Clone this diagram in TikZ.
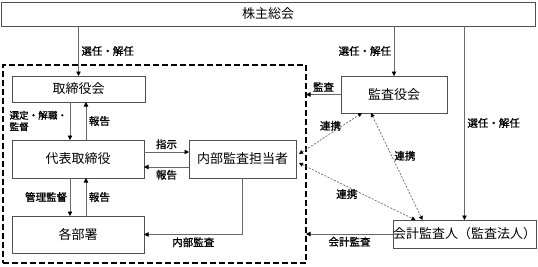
\documentclass[tikz,border=0pt]{standalone}
\usepackage{fontspec}
\setmainfont{Noto Sans CJK JP}
\newfontfamily\lblfont{Noto Sans CJK JP}[FakeBold=1.2]
\usetikzlibrary{arrows.meta, positioning, calc}
\definecolor{boxgray}{RGB}{80,80,80}
\definecolor{linegray}{RGB}{105,105,105}

\tikzset{
    orgbox/.style={draw=boxgray, line width=0.8pt, fill=white, inner sep=0pt, outer sep=0pt,
        font=\fontsize{13}{15}\selectfont},
    lbl/.style={font=\lblfont\fontsize{10.5}{11.5}\selectfont, inner sep=2.5pt},
    flow/.style={-{Triangle[length=4.5pt, width=4.5pt, color=black]}, draw=linegray, line width=0.8pt},
    link/.style={{Triangle[length=4pt, width=4pt, color=black]}-{Triangle[length=4pt, width=4pt, color=black]},
        draw=linegray, line width=0.7pt, dash pattern=on 2pt off 1.5pt},
}

\begin{document}
\begin{tikzpicture}[x=1pt, y=-1pt]
    \useasboundingbox (0,0) rectangle (538,266);

    % Company frame
    \node[draw, line width=1.6pt, dash pattern=on 6pt off 3pt, inner sep=0pt, outer sep=0pt,
        minimum width=303pt, minimum height=198pt] (frame) at (154.5,164) {};

    % Boxes
    \node[orgbox, minimum width=534pt, minimum height=24pt] (kabunushi) at (268,14) {株主総会};
    \node[orgbox, minimum width=133pt, minimum height=26pt] (torishimari) at (78.5,89) {取締役会};
    \node[orgbox, minimum width=132pt, minimum height=38pt] (daihyo) at (78,159) {代表取締役};
    \node[orgbox, minimum width=132pt, minimum height=37pt] (bumon) at (78,234.5) {各部署};
    \node[orgbox, minimum width=107pt, minimum height=38pt] (naibu) at (242.5,159) {内部監査担当者};
    \node[orgbox, minimum width=106pt, minimum height=37pt] (kansayaku) at (394,94.5) {監査役会};
    \node[orgbox, minimum width=143pt, minimum height=28pt] (kaikei) at (464.5,234) {会計監査人（監査法人）};

    % Election arrows
    \draw[flow] (kabunushi.south -| torishimari) -- (torishimari.north)
        node[lbl, midway, right] {選任・解任};
    \draw[flow] (kabunushi.south -| kansayaku) -- (kansayaku.north)
        node[lbl, midway, left] {選任・解任};
    \draw[flow] (kabunushi.south -| kaikei) -- (kaikei.north)
        node[lbl, midway, right] {選任・解任};

    % Board and representative
    \draw[flow] ([xshift=-8.5pt]torishimari.south) -- ([xshift=-8.5pt]torishimari.south |- daihyo.north)
        node[lbl, midway, left, align=left, inner sep=2.5pt, font=\lblfont\fontsize{9.6}{11.5}\selectfont] {選定・解職・\\監督};
    \draw[flow] ([xshift=8pt]daihyo.north) -- ([xshift=8pt]daihyo.north |- torishimari.south)
        node[lbl, midway, right] {報告};
    \draw[flow] ([xshift=-8pt]daihyo.south) -- ([xshift=-8pt]bumon.north)
        node[lbl, midway, left] {管理監督};
    \draw[flow] ([xshift=8pt]bumon.north) -- ([xshift=8pt]daihyo.south)
        node[lbl, midway, right] {報告};

    % Internal audit
    \draw[flow] ([yshift=7pt]daihyo.east) -- ([yshift=7pt]daihyo.east -| naibu.west)
        node[lbl, midway, above] {指示};
    \draw[flow] ([yshift=-8pt]naibu.west) -- ([yshift=-8pt]naibu.west -| daihyo.east)
        node[lbl, midway, below] {報告};
    \draw[flow] (naibu.south) |- (bumon.east)
        node[lbl, pos=0.75, below] {内部監査};

    % Outside audit
    \draw[flow] (kansayaku.west) -- (kansayaku.west -| frame.east)
        node[lbl, midway, above] {監査};
    \draw[flow] (kaikei.west) -- (kaikei.west -| frame.east)
        node[lbl, midway, below] {会計監査};

    % Cooperation links
    \draw[link] ([shift={(3pt,5pt)}]naibu.east) -- ([xshift=-32pt]kansayaku.south)
        node[lbl, midway, above] {連携};
    \draw[link] ([xshift=-23pt]kansayaku.south) -- ([xshift=-42pt]kaikei.north)
        node[lbl, pos=0.4, right] {連携};
    \draw[link] ([shift={(3pt,-4pt)}]naibu.east) -- ([xshift=-49pt]kaikei.north)
        node[lbl, pos=0.41, below] {連携};
\end{tikzpicture}
\end{document}
